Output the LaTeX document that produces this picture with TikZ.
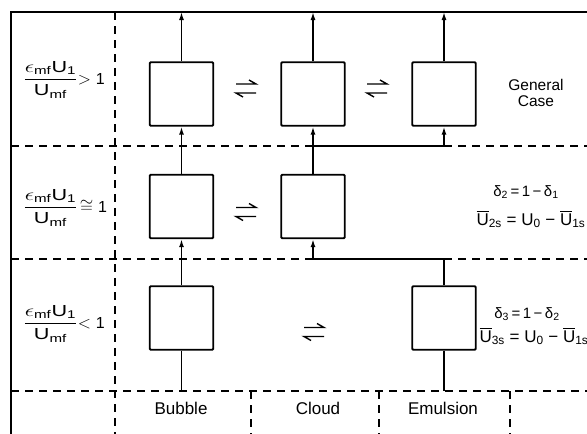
\documentclass[tikz,border=0pt]{standalone}
\usepackage{amsmath}
\usepackage{graphicx}
\usepackage{fontspec}
\setmainfont{Liberation Sans}
\usetikzlibrary{arrows.meta}
\newcommand{\eqharp}[2]{%
  \draw[line width=1.4pt] (#1-10,#2-4.5) -- (#1+10,#2-4.5) -- (#1+3,#2-8.5);
  \draw[line width=1.4pt] (#1+10,#2+4.5) -- (#1-10,#2+4.5) -- (#1-3,#2+8.5);}
\newcommand{\rmU}{\mathrm{U}}
\newcommand{\ovU}{$\overline{\mathrm{U}}$}
\newcommand{\ratio}{\scalebox{1.35}[1]{$\dfrac{\epsilon_{\mathrm{mf}}\rmU_{\mathrm{1}}}{\rmU_{\mathrm{mf}}}$}}
\begin{document}
\begin{tikzpicture}[x=1pt,y=-1pt,
  box/.style={draw,line width=1.8pt,minimum width=63.5pt,minimum height=63.5pt,inner sep=0pt,rounded corners=1pt},
  flow/.style={line width=1.5pt},
  arr/.style={flow,-{Latex[length=8pt,width=5pt]}},
  grid/.style={line width=1.2pt,dash pattern=on 8pt off 6pt},
  frame/.style={line width=1.8pt},
  lbl/.style={font=\fontsize{16}{17}\selectfont,inner sep=0pt},
  rlbl/.style={font=\fontsize{15}{16}\selectfont,inner sep=0pt},
  ulbl/.style={font=\fontsize{17}{18}\selectfont,inner sep=0pt},
  col/.style={font=\fontsize{17}{19}\selectfont,inner sep=0pt},
  ]
\useasboundingbox (0,0) rectangle (587,434);
% boxes
\node[box] (b1) at (181.5,94) {};
\node[box] (c1) at (313,94) {};
\node[box] (e1) at (444,94) {};
\node[box] (b2) at (181.5,206.5) {};
\node[box] (c2) at (313,206.5) {};
\node[box] (b3) at (181.5,318) {};
\node[box] (e3) at (444,318) {};
% coordinates
\coordinate (TL) at (11,12);
\coordinate (TR) at (587,12);
\coordinate (BL) at (11,434);
\coordinate (tb) at (181.5,12);
\coordinate (tc) at (313,12);
\coordinate (te) at (444,12);
\coordinate (j1) at (313,146);
\coordinate (k1) at (444,146);
\coordinate (j2) at (313,259);
\coordinate (k2) at (444,259);
\coordinate (bb) at (181.5,391);
\coordinate (be) at (444,391);
% grid
\draw[grid] (11,146) -- (j1);
\draw[grid] (k1) -- (587,146);
\draw[grid] (11,259) -- (j2);
\draw[grid] (k2) -- (587,259);
\draw[grid] (11,391) -- (587,391);
\draw[grid] (115,12) -- (115,434);
\draw[grid] (251,391) -- (251,434);
\draw[grid] (379,391) -- (379,434);
\draw[grid] (510,391) -- (510,434);
\draw[frame] (BL) -- (TL) -- (TR);
% flows
\draw[arr] (b1.north) -- (tb);
\draw[arr] (c1.north) -- (tc);
\draw[arr] (e1.north) -- (te);
\draw[arr] (b2.north) -- (b1.south);
\draw[arr] (c2.north) -- (c1.south);
\draw[arr] (j1) -- (k1) -- (e1.south);
\draw[arr] (b3.north) -- (b2.south);
\draw[arr] (e3.north) -- (k2) -- (j2) -- (c2.south);
\draw[flow] (b3.south) -- (bb);
\draw[flow] (e3.south) -- (be);
% equilibria
\eqharp{246}{88.5}
\eqharp{377}{88.5}
\eqharp{246}{212}
\eqharp{314}{332}
% left labels
\node[lbl,anchor=base west] (f1) at (23,84) {\ratio$\mathrm{>1}$};
\node[lbl,anchor=base west] (f2) at (23,212) {\ratio\hspace{2pt}$\cong\mathrm{1}$};
\node[lbl,anchor=base west] (f3) at (23,328) {\ratio$\mathrm{<1}$};
% right labels
\node[lbl,align=center,font=\fontsize{15.5}{16.5}\selectfont] (gc) at (536,93) {General\\Case};
\node[rlbl] (d2) at (526,192) {δ\textsubscript{2}\,=\,1\,−\,δ\textsubscript{1}};
\node[ulbl] (u2) at (531,219) {\ovU\textsubscript{2s} = U\textsubscript{0} − \ovU\textsubscript{1s}};
\node[rlbl] (d3) at (527,314) {δ\textsubscript{3}\,=\,1\,−\,δ\textsubscript{2}};
\node[ulbl] (u3) at (534,336) {\ovU\textsubscript{3s} = U\textsubscript{0} − \ovU\textsubscript{1s}};
% column labels
\node[col] (lb) at (181,408) {Bubble};
\node[col] (lc) at (318,408) {Cloud};
\node[col] (le) at (443,408) {Emulsion};
\end{tikzpicture}
\end{document}
